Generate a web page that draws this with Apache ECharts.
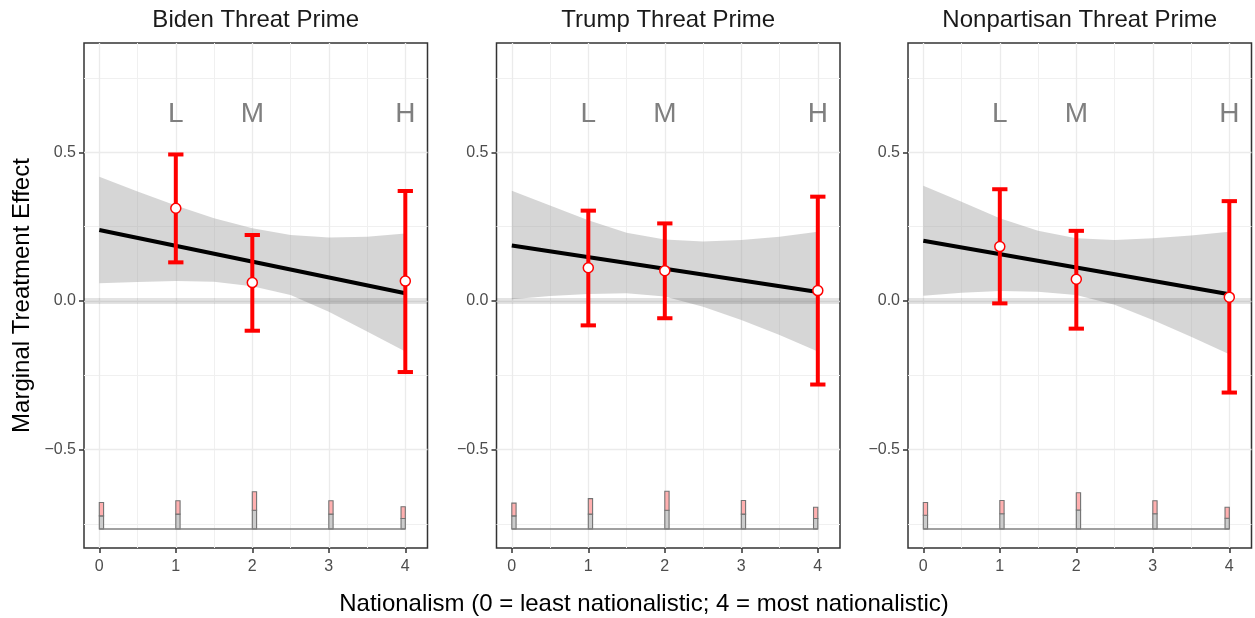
<!DOCTYPE html>
<html><head><meta charset="utf-8">
<script src="https://cdn.jsdelivr.net/npm/echarts@6/dist/echarts.min.js"></script>
<style>html,body{margin:0;padding:0;background:#fff}#c{width:1255px;height:618px}</style>
</head><body><div id="c"></div>
<script>
// ---------------- data ----------------
const panelTitles = ["Biden Threat Prime", "Trump Threat Prime", "Nonpartisan Threat Prime"];
const xAxisTitle = "Nationalism (0 = least nationalistic; 4 = most nationalistic)";
const yAxisTitle = "Marginal Treatment Effect";
const xTicks = [0, 1, 2, 3, 4];
const xMinorGrid = [0.5, 1.5, 2.5, 3.5];
const yTicks = [-0.5, 0, 0.5];
const yMinorGrid = [-0.75, -0.25, 0.25, 0.75];

const levelX = [1, 2, 4];
const levelLabels = ["L", "M", "H"];
const pointEst = [
  [0.312, 0.062, 0.067],
  [0.112, 0.102, 0.035],
  [0.183, 0.073, 0.013]
];
const ciLow = [
  [0.130, -0.100, -0.239],
  [-0.082, -0.058, -0.281],
  [-0.008, -0.093, -0.308]
];
const ciHigh = [
  [0.493, 0.222, 0.370],
  [0.304, 0.261, 0.351],
  [0.376, 0.236, 0.336]
];

const fitX = [0, 4];
const fitY = [
  [0.239, 0.026],
  [0.187, 0.030],
  [0.203, 0.0225]
];

const bandX = [0, 0.5, 1, 1.5, 2, 2.5, 3, 3.5, 4];
const bandUpper = [
  [0.418, 0.368, 0.321, 0.278, 0.245, 0.222, 0.214, 0.216, 0.227],
  [0.371, 0.321, 0.272, 0.230, 0.207, 0.200, 0.205, 0.216, 0.233],
  [0.388, 0.334, 0.278, 0.236, 0.211, 0.205, 0.211, 0.220, 0.233]
];
const bandLower = [
  [0.060, 0.064, 0.067, 0.065, 0.050, 0.020, -0.036, -0.103, -0.170],
  [0.006, 0.017, 0.0235, 0.026, 0.015, -0.019, -0.064, -0.114, -0.170],
  [0.018, 0.028, 0.034, 0.031, 0.020, -0.013, -0.064, -0.120, -0.179]
];

const histX = [0, 1, 2, 3, 4];
const histBase = -0.767;
const histGrayTop = [
  [-0.723, -0.717, -0.704, -0.717, -0.732],
  [-0.723, -0.717, -0.704, -0.717, -0.732],
  [-0.721, -0.716, -0.703, -0.716, -0.731]
];
const histPinkTop = [
  [-0.678, -0.672, -0.642, -0.672, -0.692],
  [-0.680, -0.665, -0.640, -0.671, -0.694],
  [-0.678, -0.671, -0.645, -0.672, -0.694]
];

// ---------------- layout / style ----------------
const FONT = '"Liberation Sans", Arial, Helvetica, sans-serif';
const gridLefts = [84, 496.5, 908];
const gridWidth = 343.5;
const gridTop = 43;
const gridHeight = 505;
const xMin = -0.2, xMax = 4.29;
const yMin = -0.831, yMax = 0.868;
const binWidth = 0.056;
const capHalf = 0.1;
const levelLabelY = 0.628;
const histXMax = Math.max(...histX);

const fmtY = v => (v < 0 ? '\u2212' + Math.abs(v).toFixed(1) : v.toFixed(1));

const grids = [], xAxes = [], yAxes = [], series = [], graphics = [];

panelTitles.forEach((title, i) => {
  grids.push({
    left: gridLefts[i], top: gridTop, width: gridWidth, height: gridHeight,
    show: true, borderColor: '#333333', borderWidth: 1.5, backgroundColor: '#ffffff'
  });
  xAxes.push({
    type: 'value', gridIndex: i, min: xMin, max: xMax,
    axisLine: { show: false, onZero: false },
    axisTick: { show: true, length: 5, lineStyle: { color: '#333333', width: 1.5 }, customValues: xTicks },
    axisLabel: { show: true, margin: 11, color: '#4d4d4d', fontSize: 16, fontFamily: FONT, customValues: xTicks,
                 formatter: v => String(v) },
    splitLine: { show: false }
  });
  yAxes.push({
    type: 'value', gridIndex: i, min: yMin, max: yMax,
    axisLine: { show: false, onZero: false },
    axisTick: { show: true, length: 5, lineStyle: { color: '#333333', width: 1.5 }, customValues: yTicks },
    axisLabel: { show: true, margin: 8, color: '#4d4d4d', fontSize: 16, fontFamily: FONT, customValues: yTicks,
                 formatter: fmtY },
    splitLine: { show: false }
  });

  // grid lines
  series.push({
    type: 'line', xAxisIndex: i, yAxisIndex: i, data: [], silent: true, z: 1,
    markLine: {
      z: 1, silent: true, symbol: ['none', 'none'], label: { show: false }, animation: false,
      lineStyle: { color: '#f0f0f0', width: 1, type: 'solid' },
      data: yMinorGrid.map(v => ({ yAxis: v })).concat(xMinorGrid.map(v => ({ xAxis: v })))
    }
  });
  series.push({
    type: 'line', xAxisIndex: i, yAxisIndex: i, data: [], silent: true, z: 1,
    markLine: {
      z: 1, silent: true, symbol: ['none', 'none'], label: { show: false }, animation: false,
      lineStyle: { color: '#ebebeb', width: 1.3, type: 'solid' },
      data: yTicks.map(v => ({ yAxis: v })).concat(xTicks.map(v => ({ xAxis: v })))
    }
  });

  // confidence ribbon
  series.push({
    type: 'custom', xAxisIndex: i, yAxisIndex: i, z: 2, silent: true, animation: false,
    data: [[bandX[0], bandLower[i][0]]],
    renderItem: (params, api) => {
      const pts = [];
      for (let k = 0; k < bandX.length; k++) pts.push(api.coord([bandX[k], bandUpper[i][k]]));
      for (let k = bandX.length - 1; k >= 0; k--) pts.push(api.coord([bandX[k], bandLower[i][k]]));
      return { type: 'polygon', shape: { points: pts }, style: { fill: 'rgba(153,153,153,0.4)', stroke: null } };
    }
  });

  // zero reference band
  series.push({
    type: 'line', xAxisIndex: i, yAxisIndex: i, data: [], silent: true, z: 3,
    markLine: {
      z: 3, silent: true, symbol: ['none', 'none'], label: { show: false }, animation: false,
      lineStyle: { color: 'rgba(0,0,0,0.11)', width: 6, type: 'solid' },
      data: [{ yAxis: 0 }]
    }
  });

  // fitted line
  series.push({
    type: 'line', xAxisIndex: i, yAxisIndex: i, z: 4, silent: true, animation: false,
    symbol: 'none', lineStyle: { color: '#000000', width: 4 },
    data: fitX.map((x, k) => [x, fitY[i][k]])
  });

  // histogram baseline
  series.push({
    type: 'line', xAxisIndex: i, yAxisIndex: i, z: 4, silent: true, animation: false,
    symbol: 'none', lineStyle: { color: '#808080', width: 1.4 },
    data: [[histX[0], histBase], [histXMax, histBase]]
  });

  // histogram bars
  series.push({
    type: 'custom', xAxisIndex: i, yAxisIndex: i, z: 4, silent: true, animation: false,
    data: histX.map((x, k) => [x, histGrayTop[i][k], histPinkTop[i][k]]),
    renderItem: (params, api) => {
      const x = api.value(0), g = api.value(1), p = api.value(2);
      const x0 = (x + binWidth <= histXMax + 1e-9) ? x : x - binWidth;
      const a = api.coord([x0, histBase]);
      const b = api.coord([x0 + binWidth, g]);
      const c = api.coord([x0 + binWidth, p]);
      return {
        type: 'group', children: [
          { type: 'rect', shape: { x: a[0], y: b[1], width: b[0] - a[0], height: a[1] - b[1] },
            style: { fill: '#cccccc', stroke: '#737373', lineWidth: 1.1 } },
          { type: 'rect', shape: { x: a[0], y: c[1], width: c[0] - a[0], height: b[1] - c[1] },
            style: { fill: '#ffb0b0', stroke: '#737373', lineWidth: 1.1 } }
        ]
      };
    }
  });

  // error bars
  series.push({
    type: 'custom', xAxisIndex: i, yAxisIndex: i, z: 5, silent: true, animation: false,
    data: levelX.map((x, k) => [x, ciLow[i][k], ciHigh[i][k]]),
    encode: { x: 0, y: [1, 2] },
    renderItem: (params, api) => {
      const x = api.value(0), lo = api.value(1), hi = api.value(2);
      const t = api.coord([x, hi]), b = api.coord([x, lo]);
      const tl = api.coord([x - capHalf, hi]), tr = api.coord([x + capHalf, hi]);
      const bl = api.coord([x - capHalf, lo]), br = api.coord([x + capHalf, lo]);
      const st = { stroke: '#ff0000', lineWidth: 4 };
      return {
        type: 'group', children: [
          { type: 'line', shape: { x1: t[0], y1: t[1], x2: b[0], y2: b[1] }, style: st },
          { type: 'line', shape: { x1: tl[0], y1: tl[1], x2: tr[0], y2: tr[1] }, style: st },
          { type: 'line', shape: { x1: bl[0], y1: bl[1], x2: br[0], y2: br[1] }, style: st }
        ]
      };
    }
  });

  // point estimates
  series.push({
    type: 'scatter', xAxisIndex: i, yAxisIndex: i, z: 6, silent: true, animation: false,
    symbol: 'circle', symbolSize: 10,
    itemStyle: { color: '#ffffff', borderColor: '#ff0000', borderWidth: 1.5, opacity: 1 },
    data: levelX.map((x, k) => [x, pointEst[i][k]])
  });

  // L / M / H labels
  series.push({
    type: 'custom', xAxisIndex: i, yAxisIndex: i, z: 6, silent: true, animation: false,
    data: levelX.map((x, k) => [x, levelLabelY, k]),
    renderItem: (params, api) => {
      const pt = api.coord([api.value(0), api.value(1)]);
      return { type: 'text', x: pt[0], y: pt[1],
        style: { text: levelLabels[api.value(2)], fontSize: 28, fontFamily: FONT, fill: '#7f7f7f',
                 align: 'center', verticalAlign: 'middle' } };
    }
  });

  graphics.push({
    type: 'text', x: gridLefts[i] + gridWidth / 2, y: 20, silent: true,
    style: { text: title, fontSize: 24, fontFamily: FONT, fill: '#1a1a1a', align: 'center', verticalAlign: 'middle' }
  });
});

graphics.push({
  type: 'text', x: 644, y: 604, silent: true,
  style: { text: xAxisTitle, fontSize: 24, fontFamily: FONT, fill: '#000000', align: 'center', verticalAlign: 'middle' }
});
graphics.push({
  type: 'text', x: 22, y: 295.5, rotation: Math.PI / 2, silent: true,
  style: { text: yAxisTitle, fontSize: 24, fontFamily: FONT, fill: '#000000', align: 'center', verticalAlign: 'middle' }
});

const chart = echarts.init(document.getElementById('c'), null, { renderer: 'canvas' });
chart.setOption({
  animation: false,
  backgroundColor: '#ffffff',
  grid: grids, xAxis: xAxes, yAxis: yAxes, series: series, graphic: graphics
});
</script>
</body></html>
